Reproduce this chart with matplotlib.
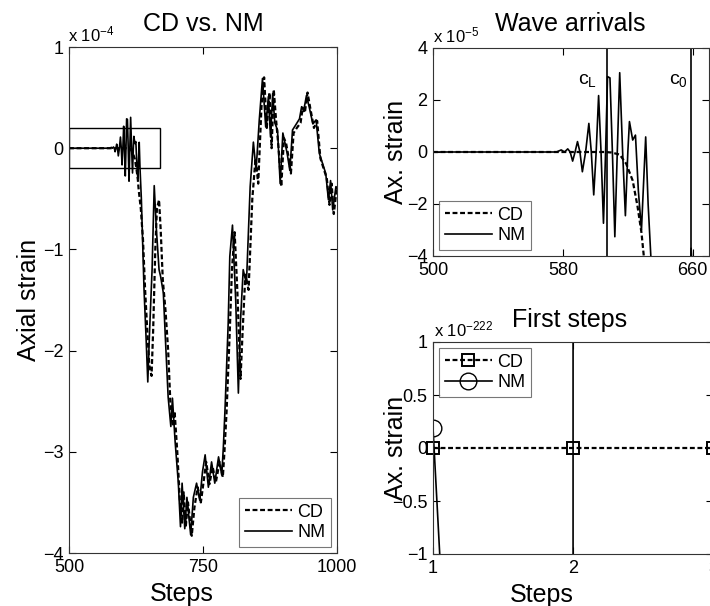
import matplotlib
matplotlib.use("Agg")
import matplotlib.pyplot as plt
from matplotlib.patches import Rectangle

plt.rcParams['font.family'] = ['Liberation Sans', 'DejaVu Sans']
plt.rcParams['mathtext.fontset'] = 'custom'
plt.rcParams['mathtext.rm'] = 'Liberation Sans'
plt.rcParams['mathtext.it'] = 'Liberation Sans:italic'

# NM solution, strain in units of 1e-5
nm_steps = [500, 570, 576, 579, 581, 583, 584.5, 586, 587.5, 589, 590.5, 592, 594, 596,
            597.5, 599, 600.5, 602, 603.5, 605, 606.3, 607.5, 609, 610.5, 612, 613.5, 615,
            616.8, 618.5, 620, 621, 623, 624.7, 626.5, 628.4, 629.7, 631, 632.5, 635, 640,
            644, 647, 650, 655, 659, 663, 668, 671, 676, 680, 685, 690, 693, 698, 704, 708,
            711, 716, 720, 727, 732, 738, 744, 749, 754, 760, 766, 772, 779, 785, 788, 791,
            797, 800, 805, 811, 816, 820, 825, 831, 838, 844, 849, 855, 861, 867, 872, 876,
            880, 884, 889, 894, 899, 903, 907, 912, 917, 923, 930, 934, 938, 943, 948, 955,
            961, 967, 973, 979, 984, 988, 992, 998, 1000]
nm_strain = [0, 0, 0, 0.08, 0.0, 0.12, 0, -0.35, 0, 0.4, 0, -0.76, 0, 1.1,
             0, -1.65, 0, 2.17, 0, -2.74, 0, 2.9, 2.85, 0, -3.26, 0, 3.05,
             0, -2.45, 0, 1.17, 0.46, 0.65, -1.5, -3.0, -1.2, 0.58, -2.0, -5.0, -14.0,
             -19.0, -23.1, -18.5, -12.0, -3.7, -8.0, -12.0, -12.7, -14.3, -19.0, -24.6, -27.5,
             -24.7, -29.0, -33.1, -37.4, -33.1, -37.6, -34.5, -38.2, -34.5, -33.1, -34.8,
             -32.0, -30.3, -33.5, -31.0, -33.1, -30.5, -32.3, -29.5, -25.9, -17.3, -10.7,
             -7.6, -15.0, -24.2, -17.0, -12.0, -13.4, -3.8, 0.6, -2.2, 2.8, 6.9, 2.1, 5.1,
             1.1, 5.4, 2.5, 1.8, -3.5, 1.5, 0.5, -0.5, -2.2, 1.8, 2.3, 2.9, 4.1, 3.75, 5.2,
             4.1, 2.4, 2.8, -0.5, -1.5, -2.5, -5.1, -3.2, -6.1, -3.8, -4.0]

# CD solution, strain in units of 1e-5
cd_steps = [500, 606, 610, 615, 619, 623, 626, 628.4, 630, 634, 638, 642, 646, 650, 654,
            657, 661, 664, 668, 671, 675, 680, 685, 689, 694, 697, 702, 707, 711, 714, 718,
            722, 729, 734, 740, 746, 751, 756, 762, 768, 774, 781, 787, 790, 794, 800, 804,
            809, 814, 820, 824, 829, 835, 842, 848, 853, 859, 864, 869, 874, 878, 882, 886,
            891, 896, 901, 905, 910, 914, 919, 925, 932, 936, 940, 945, 950, 957, 963, 969,
            975, 981, 986, 990, 994, 999, 1000]
cd_strain = [0, 0, -0.02, -0.1, -0.45, -1.1, -2.1, -3.1, -4.1, -6.0, -9.0, -14.0, -18.0,
             -21.5, -22.5, -18.0, -10.0, -6.0, -5.1, -8.0, -13.0, -16.0, -20.0, -25.0, -27.5,
             -26.0, -30.0, -35.0, -37.0, -34.0, -37.3, -35.0, -38.3, -35.5, -33.5, -35.0,
             -33.0, -31.0, -33.2, -31.5, -33.0, -31.0, -32.5, -30.0, -26.0, -18.0, -12.0,
             -8.3, -14.0, -22.8, -18.0, -12.5, -14.0, -5.0, -1.0, -3.5, 4.0, 7.0, 2.0, 5.5,
             0.0, 5.8, 3.0, 0.0, -3.8, 1.0, 0.5, -1.0, -2.5, 1.5, 2.0, 2.5, 4.0, 3.5, 5.5,
             4.0, 2.0, 2.7, -1.0, -2.0, -3.0, -5.6, -3.5, -6.5, -4.2, -4.0]

# wave front arrival steps
c_L_step = 607
c_0_step = 659

# first steps, strain in units of 1e-222
first_steps = [1, 2, 3]
cd_first = [0, 0, 0]
nm_first = [0.19, -24.6, 5.0e4]

W, H = 710, 606


def px_axes(x0, y0, x1, y1):
    return [x0 / W, 1 - y1 / H, (x1 - x0) / W, (y1 - y0) / H]


def style(ax):
    ax.tick_params(direction='in', length=5, width=0.8, top=True, right=True,
                   labelsize=13, pad=4)
    for s in ax.spines.values():
        s.set_linewidth(0.8)
        s.set_color('#333333')


def legend(ax, loc):
    lg = ax.legend(loc=loc, fontsize=13, frameon=True, fancybox=False,
                   handlelength=2.6, handletextpad=0.3, borderpad=0.3,
                   labelspacing=0.2, borderaxespad=0.35)
    lg.get_frame().set_edgecolor('#555555')
    lg.get_frame().set_linewidth(0.8)
    return lg


dash = (0, (2.2, 1.2))
fig = plt.figure(figsize=(W / 100, H / 100), dpi=100)

# left: full comparison
ax1 = fig.add_axes(px_axes(69, 47, 337, 553))
ax1.plot(cd_steps, [v / 10 for v in cd_strain], color='k', ls=dash, lw=1.6, label='CD')
ax1.plot(nm_steps, [v / 10 for v in nm_strain], color='k', ls='-', lw=1.2, label='NM')
ax1.add_patch(Rectangle((500, -0.2), 170, 0.4, fill=False, ec='k', lw=1.0))
ax1.set_xlim(500, 1000)
ax1.set_ylim(-4, 1)
ax1.set_xticks([500, 750, 1000])
ax1.set_yticks([-4, -3, -2, -1, 0, 1])
style(ax1)
legend(ax1, 'lower right')
ax1.set_xlabel('Steps', fontsize=18)
ax1.xaxis.set_label_coords(0.42, -0.058)
ax1.xaxis.label.set_va('top')
ax1.set_ylabel('Axial strain', fontsize=18)
ax1.yaxis.set_label_coords(-0.105, 0.5)
fig.text(203 / W, 1 - 31 / H, 'CD vs. NM', fontsize=18, ha='center', va='baseline')
fig.text(68 / W, 1 - 41 / H, r'x 10$^{\mathregular{-4}}$', fontsize=12, ha='left', va='baseline')

# top right: wave arrivals
ax2 = fig.add_axes(px_axes(433, 48, 709, 256))
ax2.plot(cd_steps, cd_strain, color='k', ls=dash, lw=1.6, label='CD')
ax2.plot(nm_steps, nm_strain, color='k', ls='-', lw=1.2, label='NM')
ax2.axvline(c_L_step, color='k', lw=1.2)
ax2.axvline(c_0_step, color='k', lw=1.2)
ax2.text(c_L_step - 6, 2.6, r'c$_\mathregular{L}$', fontsize=14, ha='right', va='baseline')
ax2.text(c_0_step - 2, 2.6, r'c$_\mathregular{0}$', fontsize=14, ha='right', va='baseline')
ax2.set_xlim(500, 670)
ax2.set_ylim(-4, 4)
ax2.set_xticks([500, 580, 660])
ax2.set_yticks([-4, -2, 0, 2, 4])
style(ax2)
legend(ax2, 'lower left')
ax2.set_ylabel('Ax. strain', fontsize=18)
ax2.yaxis.set_label_coords(-0.09, 0.5)
fig.text(570 / W, 1 - 31 / H, 'Wave arrivals', fontsize=18, ha='center', va='baseline')
fig.text(433 / W, 1 - 42 / H, r'x 10$^{\mathregular{-5}}$', fontsize=12, ha='left', va='baseline')

# bottom right: first steps
ax3 = fig.add_axes(px_axes(433, 342, 713, 554))
ax3.plot(first_steps, cd_first, color='k', ls=dash, lw=1.6, marker='s', ms=9,
         mfc='none', mec='k', mew=1.4, label='CD', clip_on=False)
ax3.plot(first_steps, nm_first, color='k', ls='-', lw=1.2, marker='o', ms=12,
         mfc='none', mec='k', mew=1.0, label='NM')
ax3.set_xlim(1, 3)
ax3.set_ylim(-1, 1)
ax3.set_xticks([1, 2, 3])
ax3.set_yticks([-1, -0.5, 0, 0.5, 1])
ax3.set_yticklabels(['\u22121', '\u22120.5', '0', '0.5', '1'])
style(ax3)
legend(ax3, 'upper left')
ax3.set_xlabel('Steps', fontsize=18)
ax3.xaxis.set_label_coords(0.39, -0.136)
ax3.xaxis.label.set_va('top')
ax3.set_ylabel('Ax. strain', fontsize=18)
ax3.yaxis.set_label_coords(-0.09, 0.5)
fig.text(570 / W, 1 - 327 / H, 'First steps', fontsize=18, ha='center', va='baseline')
fig.text(434 / W, 1 - 336 / H, r'x 10$^{\mathregular{-222}}$', fontsize=12, ha='left', va='baseline')

fig.savefig('out.png', dpi=100)
